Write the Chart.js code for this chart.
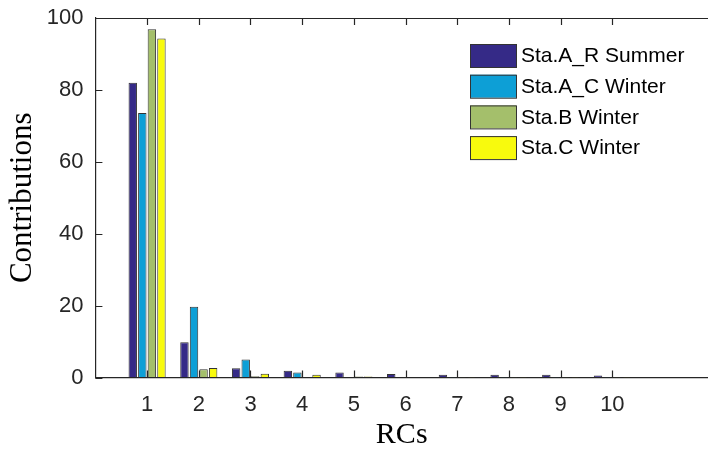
<!DOCTYPE html>
<html>
<head>
<meta charset="utf-8">
<script src="https://cdn.jsdelivr.net/npm/chart.js@4.4.1/dist/chart.umd.min.js"></script>
<style>
  body { margin: 0; background: #fff; }
  #wrap { width: 708px; height: 450px; }
</style>
</head>
<body>
<div id="wrap"><canvas id="rcChart" width="708" height="450"></canvas></div>
<script>
// Données
const rcs = [1, 2, 3, 4, 5, 6, 7, 8, 9, 10];
const seriesNames = ["Sta.A_R Summer", "Sta.A_C Winter", "Sta.B Winter", "Sta.C Winter"];
const staARSummer = [82.0, 9.8, 2.6, 1.9, 1.4, 1.0, 0.8, 0.8, 0.8, 0.6];
const staACWinter = [73.6, 19.7, 5.0, 1.4, 0.2, 0.2, 0.1, 0.1, 0.1, 0.1];
const staBWinter  = [96.9, 2.3, 0.4, 0.2, 0.3, 0.2, 0.1, 0.1, 0.1, 0.1];
const staCWinter  = [94.3, 2.7, 1.1, 0.8, 0.3, 0.2, 0.1, 0.1, 0.1, 0.1];
const yTicks = [0, 20, 40, 60, 80, 100];

const colors = ["#352a87", "#0d9fd6", "#a4bf6b", "#f8fa0d"];
const axisColor = "#262626";

const allSeries = [staARSummer, staACWinter, staBWinter, staCWinter];

// Axes façon MATLAB : ligne du haut + graduations vers l'intérieur
const matlabAxes = {
  id: "matlabAxes",
  afterDatasetsDraw(chart) {
    const { ctx, chartArea, scales } = chart;
    const tick = 7;
    ctx.save();
    ctx.strokeStyle = axisColor;
    ctx.lineWidth = 1.2;
    ctx.beginPath();
    ctx.moveTo(chartArea.left, chartArea.top + 0.5);
    ctx.lineTo(chartArea.right, chartArea.top + 0.5);
    rcs.forEach(v => {
      const x = Math.round(scales.x.getPixelForValue(v)) + 0.5;
      ctx.moveTo(x, chartArea.bottom);
      ctx.lineTo(x, chartArea.bottom - tick);
      ctx.moveTo(x, chartArea.top);
      ctx.lineTo(x, chartArea.top + tick);
    });
    yTicks.forEach(v => {
      const y = Math.round(scales.y.getPixelForValue(v)) + 0.5;
      ctx.moveTo(chartArea.left, y);
      ctx.lineTo(chartArea.left + tick, y);
    });
    ctx.stroke();
    ctx.restore();
  }
};

// Légende dessinée dans la zone du graphique
const boxLegend = {
  id: "boxLegend",
  afterDraw(chart) {
    const { ctx } = chart;
    const x0 = 470, y0 = 44, boxW = 46, boxH = 23, step = 30.7;
    ctx.save();
    ctx.font = "21px 'Liberation Sans', Arial, sans-serif";
    ctx.textBaseline = "middle";
    chart.data.datasets.forEach((ds, i) => {
      const y = y0 + i * step;
      ctx.fillStyle = ds.backgroundColor;
      ctx.fillRect(x0, y, boxW, boxH);
      ctx.strokeStyle = "#333";
      ctx.lineWidth = 1;
      ctx.strokeRect(x0 + 0.5, y + 0.5, boxW, boxH);
      ctx.fillStyle = "#000";
      ctx.fillText(ds.label, x0 + boxW + 5, y + boxH / 2 + 1);
    });
    ctx.restore();
  }
};

new Chart(document.getElementById("rcChart"), {
  type: "bar",
  data: {
    datasets: allSeries.map((values, i) => ({
      label: seriesNames[i],
      data: values.map((v, j) => ({ x: rcs[j], y: v })),
      backgroundColor: colors[i],
      borderColor: "#333",
      borderWidth: 1,
      categoryPercentage: 0.74,
      barPercentage: 0.88
    }))
  },
  options: {
    responsive: false,
    animation: false,
    devicePixelRatio: 1,
    layout: { padding: { left: 4, top: 18, right: 0, bottom: 0 } },
    plugins: { legend: { display: false }, tooltip: { enabled: false } },
    scales: {
      x: {
        type: "linear",
        min: 0,
        max: 11.85,
        offset: false,
        afterBuildTicks: scale => { scale.ticks = rcs.map(v => ({ value: v })); },
        grid: { drawOnChartArea: false, drawTicks: false, offset: false },
        border: { display: true, color: axisColor, width: 1.2 },
        ticks: {
          color: axisColor,
          padding: 14,
          maxRotation: 0,
          autoSkip: false,
          font: { family: "'Liberation Sans', Arial, sans-serif", size: 22 }
        },
        title: {
          display: true,
          text: "RCs",
          color: "#000",
          padding: { top: -12, bottom: 0 },
          font: { family: "'Liberation Serif', 'Times New Roman', serif", size: 30, lineHeight: 1.0 }
        }
      },
      y: {
        min: 0,
        max: 100,
        afterBuildTicks: scale => { scale.ticks = yTicks.map(v => ({ value: v })); },
        grid: { drawOnChartArea: false, drawTicks: false },
        border: { display: true, color: axisColor, width: 1.2 },
        ticks: {
          color: axisColor,
          padding: 12,
          font: { family: "'Liberation Sans', Arial, sans-serif", size: 22, lineHeight: 0.5 }
        },
        title: {
          display: true,
          text: "Contributions",
          color: "#000",
          padding: { top: 0.5, bottom: -7 },
          font: { family: "'Liberation Serif', 'Times New Roman', serif", size: 31, lineHeight: 1.2 }
        }
      }
    }
  },
  plugins: [matlabAxes, boxLegend]
});
</script>
</body>
</html>
